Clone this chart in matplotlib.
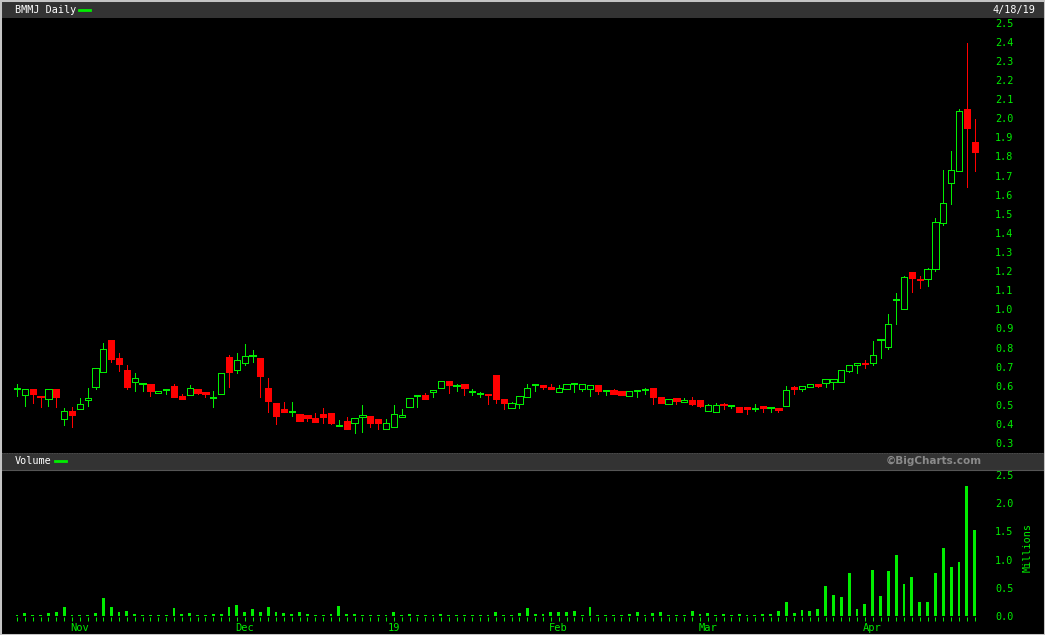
import numpy as np
import pandas as pd
import matplotlib
matplotlib.use("Agg")
import matplotlib.pyplot as plt
from matplotlib.patches import Rectangle
from matplotlib.lines import Line2D

# BMMJ daily candles, 10/22/18 - 4/18/19
holidays = ["2018-11-22", "2018-12-05", "2018-12-25", "2019-01-01", "2019-01-21", "2019-02-18"]
dates = pd.bdate_range("2018-10-22", "2019-04-18", freq="C", holidays=holidays)

opens = [0.585, 0.550, 0.581, 0.545, 0.529, 0.581, 0.427, 0.468, 0.476, 0.524,
         0.595, 0.673, 0.839, 0.745, 0.682, 0.621, 0.607, 0.607, 0.563, 0.577,
         0.598, 0.546, 0.550, 0.581, 0.567, 0.534, 0.555, 0.749, 0.681, 0.717,
         0.755, 0.745, 0.586, 0.508, 0.476, 0.462, 0.452, 0.445, 0.431, 0.452,
         0.456, 0.389, 0.417, 0.403, 0.435, 0.441, 0.424, 0.372, 0.382, 0.435,
         0.487, 0.546, 0.550, 0.565, 0.586, 0.623, 0.600, 0.609, 0.565, 0.555,
         0.555, 0.656, 0.529, 0.482, 0.506, 0.542, 0.602, 0.604, 0.593, 0.565,
         0.581, 0.607, 0.581, 0.584, 0.604, 0.574, 0.577, 0.572, 0.548, 0.570,
         0.579, 0.588, 0.542, 0.503, 0.534, 0.513, 0.524, 0.524, 0.469, 0.464,
         0.501, 0.495, 0.488, 0.488, 0.478, 0.494, 0.485, 0.483, 0.495, 0.593,
         0.584, 0.595, 0.609, 0.613, 0.621, 0.618, 0.679, 0.707, 0.718, 0.717,
         0.838, 0.804, 1.047, 1.003, 1.194, 1.155, 1.157, 1.213, 1.454, 1.663,
         1.726, 2.049, 1.877]
highs = [0.609, 0.581, 0.581, 0.545, 0.581, 0.581, 0.482, 0.487, 0.534, 0.586,
         0.691, 0.822, 0.839, 0.770, 0.708, 0.665, 0.607, 0.607, 0.574, 0.577,
         0.609, 0.555, 0.604, 0.581, 0.567, 0.572, 0.665, 0.761, 0.770, 0.818,
         0.787, 0.745, 0.639, 0.508, 0.516, 0.516, 0.452, 0.445, 0.459, 0.483,
         0.456, 0.420, 0.435, 0.429, 0.499, 0.441, 0.424, 0.424, 0.499, 0.476,
         0.534, 0.546, 0.560, 0.576, 0.623, 0.623, 0.609, 0.609, 0.581, 0.567,
         0.555, 0.656, 0.529, 0.513, 0.546, 0.609, 0.609, 0.604, 0.609, 0.602,
         0.609, 0.607, 0.609, 0.602, 0.604, 0.574, 0.583, 0.572, 0.572, 0.570,
         0.588, 0.588, 0.542, 0.529, 0.534, 0.536, 0.539, 0.524, 0.502, 0.508,
         0.511, 0.495, 0.488, 0.488, 0.504, 0.494, 0.485, 0.483, 0.598, 0.598,
         0.598, 0.609, 0.609, 0.634, 0.634, 0.681, 0.707, 0.717, 0.735, 0.834,
         0.838, 0.975, 1.085, 1.174, 1.194, 1.174, 1.215, 1.476, 1.729, 1.829,
         2.050, 2.396, 1.998]
lows = [0.548, 0.495, 0.511, 0.490, 0.494, 0.490, 0.396, 0.385, 0.476, 0.494,
        0.583, 0.673, 0.726, 0.679, 0.583, 0.574, 0.574, 0.548, 0.563, 0.555,
        0.542, 0.532, 0.550, 0.555, 0.542, 0.490, 0.555, 0.595, 0.665, 0.708,
        0.726, 0.542, 0.464, 0.399, 0.464, 0.441, 0.417, 0.417, 0.411, 0.406,
        0.399, 0.389, 0.373, 0.351, 0.359, 0.385, 0.375, 0.372, 0.382, 0.435,
        0.487, 0.490, 0.532, 0.542, 0.586, 0.560, 0.574, 0.553, 0.551, 0.542,
        0.506, 0.511, 0.478, 0.482, 0.485, 0.542, 0.574, 0.583, 0.584, 0.565,
        0.581, 0.565, 0.574, 0.548, 0.558, 0.553, 0.558, 0.553, 0.548, 0.542,
        0.558, 0.506, 0.511, 0.503, 0.506, 0.513, 0.501, 0.488, 0.469, 0.464,
        0.478, 0.485, 0.464, 0.453, 0.466, 0.464, 0.464, 0.464, 0.495, 0.557,
        0.574, 0.595, 0.595, 0.592, 0.581, 0.618, 0.672, 0.668, 0.694, 0.707,
        0.743, 0.794, 0.925, 1.003, 1.092, 1.113, 1.122, 1.202, 1.441, 1.551,
        1.726, 1.642, 1.724]
closes = [0.585, 0.581, 0.558, 0.540, 0.581, 0.542, 0.466, 0.448, 0.503, 0.534,
          0.691, 0.790, 0.740, 0.715, 0.595, 0.639, 0.607, 0.574, 0.574, 0.577,
          0.542, 0.532, 0.586, 0.563, 0.555, 0.534, 0.665, 0.673, 0.735, 0.755,
          0.755, 0.652, 0.521, 0.443, 0.464, 0.462, 0.417, 0.432, 0.411, 0.438,
          0.406, 0.389, 0.373, 0.429, 0.445, 0.403, 0.406, 0.403, 0.452, 0.445,
          0.534, 0.546, 0.532, 0.576, 0.623, 0.604, 0.600, 0.590, 0.565, 0.555,
          0.550, 0.529, 0.508, 0.508, 0.546, 0.586, 0.602, 0.595, 0.584, 0.586,
          0.609, 0.607, 0.609, 0.602, 0.572, 0.574, 0.558, 0.553, 0.572, 0.570,
          0.579, 0.542, 0.511, 0.529, 0.521, 0.524, 0.506, 0.495, 0.497, 0.497,
          0.497, 0.495, 0.464, 0.476, 0.478, 0.485, 0.485, 0.474, 0.577, 0.583,
          0.598, 0.609, 0.598, 0.634, 0.634, 0.681, 0.707, 0.717, 0.714, 0.759,
          0.838, 0.921, 1.047, 1.167, 1.165, 1.152, 1.209, 1.456, 1.555, 1.729,
          2.037, 1.949, 1.824]
# volume, millions of shares
volume = [0.020, 0.053, 0.020, 0.020, 0.053, 0.071, 0.160, 0.020, 0.020, 0.020,
          0.053, 0.320, 0.160, 0.071, 0.089, 0.035, 0.020, 0.020, 0.020, 0.010,
          0.140, 0.035, 0.053, 0.020, 0.020, 0.035, 0.035, 0.160, 0.195, 0.071,
          0.124, 0.071, 0.160, 0.071, 0.053, 0.035, 0.071, 0.035, 0.020, 0.020,
          0.035, 0.177, 0.035, 0.030, 0.020, 0.020, 0.010, 0.010, 0.068, 0.020,
          0.030, 0.020, 0.010, 0.010, 0.030, 0.010, 0.010, 0.020, 0.020, 0.010,
          0.020, 0.065, 0.010, 0.010, 0.050, 0.140, 0.030, 0.030, 0.065, 0.065,
          0.065, 0.083, 0.020, 0.154, 0.010, 0.020, 0.010, 0.010, 0.030, 0.065,
          0.020, 0.050, 0.065, 0.020, 0.020, 0.010, 0.083, 0.030, 0.050, 0.010,
          0.030, 0.010, 0.030, 0.020, 0.020, 0.030, 0.030, 0.083, 0.240, 0.047,
          0.100, 0.083, 0.118, 0.540, 0.370, 0.330, 0.760, 0.118, 0.210, 0.810,
          0.350, 0.790, 1.080, 0.560, 0.700, 0.250, 0.250, 0.760, 1.210, 0.870,
          0.960, 2.300, 1.530]

price_ticks = [0.3, 0.4, 0.5, 0.6, 0.7, 0.8, 0.9, 1.0, 1.1, 1.2, 1.3, 1.4,
               1.5, 1.6, 1.7, 1.8, 1.9, 2.0, 2.1, 2.2, 2.3, 2.4, 2.5]
volume_ticks = [0.0, 0.5, 1.0, 1.5, 2.0, 2.5]

GREEN = "#00ee00"
RED = "#ff0000"
STRIP = "#333333"
MONO = "DejaVu Sans Mono"
W, H = 1045, 635
PX = 0.72  # one pixel in points at dpi 100


def px_axes(fig, left, top, right, bottom):
    """Add axes from pixel edges (origin top-left)."""
    return fig.add_axes([left / W, 1 - bottom / H, (right - left) / W, (bottom - top) / H])


def fx(x):
    return x / W


def fy(y):
    return 1 - y / H


o = np.array(opens)
h = np.array(highs)
l = np.array(lows)
c = np.array(closes)
v = np.array(volume)
idx = np.arange(len(dates))
up = c >= o

# candle i sits at 17 + 7.85*i px; 0.1 in price = 191 px
x0, dx = 17, 7.85
xlim = ((2 - x0) / dx, (988 - x0) / dx)
min_body = 1 / 191  # keep flat bodies at least a pixel tall, like the original dashes
body_lo = np.minimum(o, c)
body_h = np.maximum(np.abs(c - o), min_body)

fig = plt.figure(figsize=(W / 100, H / 100), dpi=100, facecolor="black")

# --- price panel ---
ax = px_axes(fig, 2, 17, 988, 452)
ax.set_facecolor("black")
ax.vlines(idx, l, h, colors=np.where(up, GREEN, RED), linewidth=PX,
          antialiased=False, zorder=2)
ax.bar(idx[up], body_h[up], bottom=body_lo[up], width=0.8, facecolor="black",
       edgecolor=GREEN, linewidth=PX, antialiased=False, zorder=3)
ax.bar(idx[~up], body_h[~up], bottom=body_lo[~up], width=0.8, facecolor=RED,
       edgecolor=RED, linewidth=PX, antialiased=False, zorder=3)
ax.set_xlim(*xlim)
ax.set_ylim(0.3 - 9 / 191, 0.3 + 426 / 191)
ax.set_xticks([])
ax.yaxis.tick_right()
ax.set_yticks(price_ticks)
ax.set_yticklabels([f"{t:.1f}" for t in price_ticks])
ax.tick_params(axis="y", length=0, pad=5, colors=GREEN, labelsize=7.3)
for lab in ax.get_yticklabels():
    lab.set_fontfamily(MONO)
for s in ax.spines.values():
    s.set_visible(False)

# --- volume panel ---
vax = px_axes(fig, 2, 470, 988, 631)
vax.set_facecolor("black")
vax.bar(idx, v, width=0.36, color=GREEN, antialiased=False, zorder=3)
vax.set_xlim(*xlim)
vax.set_ylim(-15 / 56.4, 146 / 56.4)
vax.yaxis.tick_right()
vax.set_yticks(volume_ticks)
vax.set_yticklabels([f"{t:.1f}" for t in volume_ticks])
vax.tick_params(axis="y", length=0, pad=5, colors=GREEN, labelsize=7.3)
for s in vax.spines.values():
    s.set_visible(False)
vax.spines["bottom"].set_position(("data", -0.02))

month_pos = [i for i in range(1, len(dates)) if dates[i].month != dates[i - 1].month]
month_lab = ["19" if dates[i].month == 1 else dates[i].strftime("%b") for i in month_pos]
vax.set_xticks(idx, minor=True)
vax.set_xticks(month_pos)
vax.set_xticklabels(month_lab)
vax.tick_params(axis="x", which="both", direction="out", length=2.6, width=PX,
                colors=GREEN, labelsize=7.5, pad=1.5)
for lab in vax.get_yticklabels() + vax.get_xticklabels():
    lab.set_fontfamily(MONO)

# --- header strips and frame ---
for top, bot in [(1.5, 17.5), (452.5, 470)]:
    fig.patches.append(Rectangle((fx(0), fy(bot)), 1, (bot - top) / H,
                                 transform=fig.transFigure, facecolor=STRIP,
                                 edgecolor="none", zorder=0))
fig.lines.append(Line2D([0, 1], [fy(469.5)] * 2, transform=fig.transFigure,
                        color="#555555", linewidth=0.8))
fig.lines.append(Line2D([0, 1], [fy(452.5)] * 2, transform=fig.transFigure,
                        color="#555555", linewidth=0.6, linestyle=(0, (1, 1))))
fig.patches.append(Rectangle((0, 0), 1, 1, transform=fig.transFigure,
                             facecolor="none", edgecolor="#c4c4c4", linewidth=2.2, zorder=10))

fig.text(fx(15), fy(10), "BMMJ Daily", color="white", family=MONO, fontsize=7.3, va="center")
fig.lines.append(Line2D([fx(79), fx(90)], [fy(10)] * 2, transform=fig.transFigure,
                        color=GREEN, linewidth=2))
fig.text(fx(1035), fy(10), "4/18/19", color="white", family=MONO, fontsize=7.3,
         va="center", ha="right")
fig.text(fx(15), fy(461), "Volume", color="white", family=MONO, fontsize=7.3, va="center")
fig.lines.append(Line2D([fx(55), fx(66)], [fy(461)] * 2, transform=fig.transFigure,
                        color=GREEN, linewidth=2))
fig.text(fx(982), fy(461), "\u00a9BigCharts.com", color="#8a8a8a", family="DejaVu Sans",
         fontweight="bold", fontsize=7.5, va="center", ha="right")
fig.text(fx(1028), fy(548), "Millions", color=GREEN, family=MONO, fontsize=7.3,
         rotation=90, va="center", ha="center")

fig.savefig("out.png", dpi=100, facecolor="black")
